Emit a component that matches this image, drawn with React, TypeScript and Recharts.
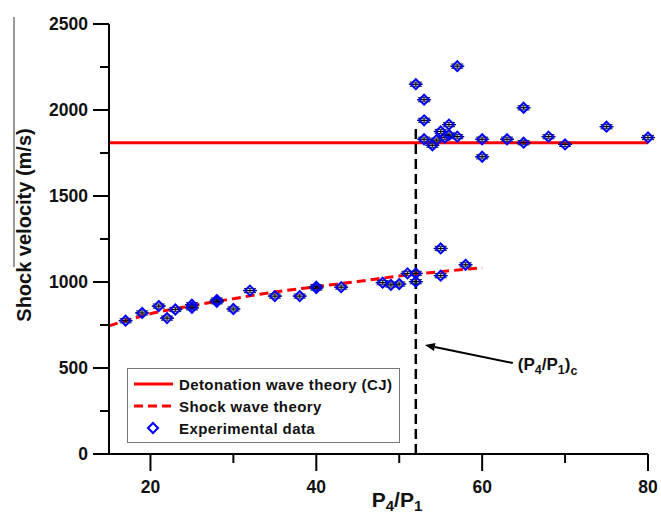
import React from "react";
import {
  ComposedChart,
  ErrorBar,
  Label,
  Legend,
  Line,
  ReferenceLine,
  Scatter,
  XAxis,
  YAxis,
} from "recharts";

// experimental points: P4/P1 and measured shock velocity (m/s)
const EXP_RATIO = [
  17, 19, 21, 22, 23, 25, 25, 28, 28, 30, 32, 35, 38, 40, 40, 43, 48, 49, 50, 51, 52, 52, 55, 55, 58,
  52, 53, 53, 53, 54, 54.5, 55, 55.5, 56, 56, 57, 57, 60, 60, 63, 65, 65, 68, 70, 75, 80,
];
const EXP_VELOCITY = [
  775, 820, 860, 790, 840, 868, 850, 895, 885, 843, 950, 918, 918, 973, 965, 970, 996, 983, 988, 1050, 1050, 1002, 1195, 1037, 1100,
  2150, 2060, 1940, 1830, 1795, 1825, 1875, 1840, 1915, 1855, 1845, 2255, 1830, 1728, 1830, 2013, 1810, 1845, 1800, 1903, 1840,
];
const VELOCITY_ERR = 12;

// shock wave theory curve
const SHOCK_RATIO = [15, 20, 25, 30, 35, 40, 45, 50, 55, 60];
const SHOCK_VELOCITY = [745, 815, 862, 903, 942, 973, 1003, 1035, 1060, 1083];

// CJ detonation velocity
const CJ_RATIO = [15, 80];
const CJ_VELOCITY = 1810;

// critical ratio marker
const CRITICAL_RATIO = 52;
const CRITICAL_TOP = 1890;
const ARROW_TIP = { x: 53.1, y: 634 };
const ARROW_TAIL = { x: 63.7, y: 529 };

const X_TICKS = [20, 30, 40, 50, 60, 70, 80];
const Y_TICKS = [0, 250, 500, 750, 1000, 1250, 1500, 1750, 2000, 2250, 2500];

const LEGEND_ITEMS = ["Detonation wave theory (CJ)", "Shock wave theory", "Experimental data"];

const FONT = "Arial, 'Liberation Sans', sans-serif";

const expData = EXP_RATIO.map((r, i) => ({
  x: r,
  y: EXP_VELOCITY[i],
  ey: VELOCITY_ERR,
}));
const shockData = SHOCK_RATIO.map((r, i) => ({ x: r, y: SHOCK_VELOCITY[i] }));
const cjData = CJ_RATIO.map(r => ({ x: r, y: CJ_VELOCITY }));

const YTick = ({ x, y, payload }: any) => {
  const major = payload.value % 500 === 0;
  return (
    <g>
      <line x1={x} y1={y} x2={x - (major ? 16 : 9)} y2={y} stroke="#000" strokeWidth={2} />
      {major && (
        <text
          x={x - 21}
          y={y}
          dy={6}
          textAnchor="end"
          fontFamily={FONT}
          fontWeight="bold"
          fontSize={17.5}
          fill="#111"
        >
          {payload.value}
        </text>
      )}
    </g>
  );
};

const XTick = ({ x, y, payload }: any) => {
  const major = payload.value % 20 === 0;
  return (
    <g>
      <line x1={x} y1={y} x2={x} y2={y + (major ? 17 : 9)} stroke="#000" strokeWidth={2} />
      {major && (
        <text
          x={x}
          y={y + 39}
          textAnchor="middle"
          fontFamily={FONT}
          fontWeight="bold"
          fontSize={17.5}
          fill="#111"
        >
          {payload.value}
        </text>
      )}
    </g>
  );
};

// blue open diamond with the horizontal bar of the x error
const Diamond = ({ cx, cy }: any) => {
  if (cx == null || cy == null) return null;
  const r = 5;
  return (
    <g>
      <line x1={cx - 7} y1={cy} x2={cx + 7} y2={cy} stroke="#000" strokeWidth={1.3} />
      <polygon
        points={`${cx},${cy - r} ${cx + r},${cy} ${cx},${cy + r} ${cx - r},${cy}`}
        fill="none"
        stroke="#0000ff"
        strokeWidth={2}
      />
    </g>
  );
};

const Arrow = ({ x1, y1, x2, y2 }: any) => {
  // x1,y1 = tip ; x2,y2 = tail
  const ang = Math.atan2(y1 - y2, x1 - x2);
  const len = 10;
  const w = 4;
  const bx = x1 - len * Math.cos(ang);
  const by = y1 - len * Math.sin(ang);
  const px = -Math.sin(ang) * w;
  const py = Math.cos(ang) * w;
  return (
    <g>
      <line x1={x2} y1={y2} x2={bx} y2={by} stroke="#000" strokeWidth={2} />
      <polygon points={`${x1},${y1} ${bx + px},${by + py} ${bx - px},${by - py}`} fill="#000" />
      <text x={x2 + 5} y={y2 + 7} fontFamily={FONT} fontWeight="bold" fontSize={17} fill="#111">
        (P<tspan fontSize={12.5} dy={4}>4</tspan>
        <tspan dy={-4}>/P</tspan>
        <tspan fontSize={12.5} dy={4}>1</tspan>
        <tspan dy={-4}>)</tspan>
        <tspan fontSize={12.5} dy={5}>c</tspan>
      </text>
    </g>
  );
};

const LegendBox = () => (
  <div
    style={{
      border: "1px solid #777",
      background: "#fff",
      boxSizing: "border-box",
      width: 273,
      height: 75,
      fontFamily: FONT,
      fontWeight: "bold",
      fontSize: 15,
      color: "#111",
      padding: "4px 0 0 5px",
    }}
  >
    {LEGEND_ITEMS.map((name, i) => (
      <div key={name} style={{ display: "flex", alignItems: "center", height: 22 }}>
        <svg width={46} height={14} style={{ flex: "none" }}>
          {i === 0 && <line x1={1} y1={7} x2={40} y2={7} stroke="#ff0000" strokeWidth={3} />}
          {i === 1 && (
            <line x1={1} y1={7} x2={40} y2={7} stroke="#ff0000" strokeWidth={3} strokeDasharray="9 5" />
          )}
          {i === 2 && (
            <polygon points="20,2 25,7 20,12 15,7" fill="none" stroke="#0000ff" strokeWidth={2} />
          )}
        </svg>
        <span style={{ letterSpacing: 0.4 }}>{name}</span>
      </div>
    ))}
  </div>
);

export default function App() {
  return (
    <div style={{ position: "absolute", left: 0, top: 0, width: 661, height: 516, background: "#fff" }}>
      <div
        style={{
          position: "absolute",
          left: 13,
          top: 17,
          width: 1.5,
          height: 250,
          background: "#999",
        }}
      />
      <ComposedChart
        width={661}
        height={516}
        margin={{ top: 24, right: 13, bottom: 0, left: 0 }}
      >
        <XAxis
          dataKey="x"
          type="number"
          domain={[15, 80]}
          ticks={X_TICKS}
          interval={0}
          height={62}
          tickSize={0}
          tickMargin={0}
          tickLine={false}
          tick={<XTick />}
          axisLine={{ stroke: "#000", strokeWidth: 2 }}
        >
          <Label
            content={() => (
              <text
                x={397}
                y={507}
                textAnchor="middle"
                fontFamily={FONT}
                fontWeight="bold"
                fontSize={21}
                fill="#111"
              >
                P<tspan fontSize={15} dy={4}>4</tspan>
                <tspan dy={-4}>/P</tspan>
                <tspan fontSize={15} dy={4}>1</tspan>
              </text>
            )}
          />
        </XAxis>
        <YAxis
          type="number"
          domain={[0, 2500]}
          ticks={Y_TICKS}
          interval={0}
          width={109}
          tickSize={0}
          tickMargin={0}
          tickLine={false}
          tick={<YTick />}
          axisLine={{ stroke: "#000", strokeWidth: 2 }}
        >
          <Label
            content={() => (
              <text
                transform="translate(31,225) rotate(-90)"
                textAnchor="middle"
                fontFamily={FONT}
                fontWeight="bold"
                fontSize={20}
                fill="#111"
              >
                Shock velocity (m/s)
              </text>
            )}
          />
        </YAxis>
        <ReferenceLine
          segment={[
            { x: CRITICAL_RATIO, y: 0 },
            { x: CRITICAL_RATIO, y: CRITICAL_TOP },
          ]}
          stroke="#000"
          strokeWidth={2.5}
          strokeDasharray="10 5"
        />
        <Line
          data={cjData}
          dataKey="y"
          stroke="#ff0000"
          strokeWidth={3}
          dot={false}
          isAnimationActive={false}
        />
        <Line
          data={shockData}
          dataKey="y"
          type="monotone"
          stroke="#ff0000"
          strokeWidth={3}
          strokeDasharray="9 5"
          dot={false}
          isAnimationActive={false}
        />
        <Scatter data={expData} dataKey="y" shape={<Diamond />} isAnimationActive={false}>
          <ErrorBar dataKey="ey" direction="y" width={6} stroke="#333" strokeWidth={1.2} />
        </Scatter>
        <ReferenceLine segment={[ARROW_TIP, ARROW_TAIL]} shape={<Arrow />} />
        <Legend
          layout="vertical"
          align="center"
          verticalAlign="middle"
          content={() => <LegendBox />}
          wrapperStyle={{ left: 127, top: 368, width: 273, height: 75 }}
        />
      </ComposedChart>
    </div>
  );
}
